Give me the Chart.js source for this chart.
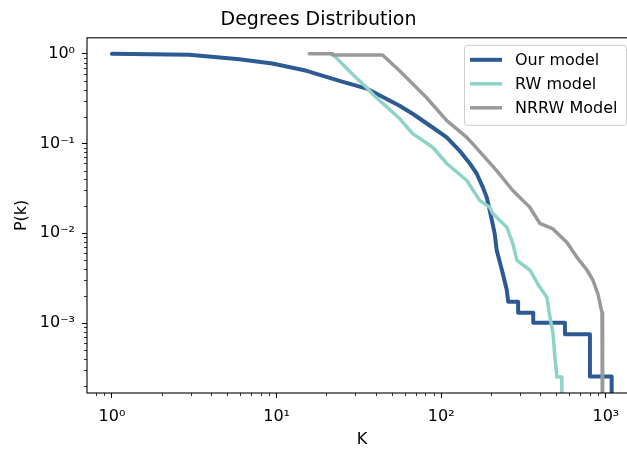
<!DOCTYPE html>
<html>
<head>
<meta charset="utf-8">
<script src="https://cdn.jsdelivr.net/npm/chart.js@4/dist/chart.umd.min.js"></script>
<style>
  html, body { margin: 0; padding: 0; overflow: hidden; background: #fff; }
  #wrap { width: 640px; height: 449px; position: relative; }
</style>
</head>
<body>
<div id="wrap"><canvas id="c"></canvas></div>
<script>
// ---- data ----
const seriesNames = ['Our model', 'RW model', 'NRRW Model'];

const ourModelK = [1, 2.94, 5.93, 9.42, 15.2, 24.1, 35.2, 55.8, 67, 88.7,
  108, 129, 149, 164, 179, 189, 197, 211, 217, 236,
  250, 255, 293, 293, 362, 362, 564, 564, 800, 800, 1084, 1084];
const ourModelP = [1.0, 0.975, 0.873, 0.78, 0.647, 0.50, 0.41, 0.264, 0.215, 0.151,
  0.117, 0.0836, 0.060, 0.0464, 0.0325, 0.0251, 0.018, 0.010, 0.0065, 0.0036,
  0.00233, 0.00173, 0.00173, 0.0013, 0.0013, 0.00101, 0.00101, 0.00075, 0.00075, 0.000253, 0.000253, 0.00001];

const rwModelK = [21.8, 28.9, 35.2, 38.2, 55.8, 67, 88.7, 108, 143, 171,
  197, 205, 250, 272, 288, 345, 397, 438, 457, 477, 490, 504, 540, 540];
const rwModelP = [1.0, 0.594, 0.422, 0.357, 0.19, 0.129, 0.091, 0.06, 0.0388, 0.0233,
  0.0195, 0.0167, 0.0117, 0.0077, 0.005, 0.0039, 0.0025, 0.00194, 0.00117, 0.00077, 0.00042, 0.000251, 0.000251, 0.00001];

const nrrwModelK = [15.8, 21.8, 21.8, 44, 55.8, 81.5, 108, 143, 155, 217,
  272, 345, 397, 477, 580, 667, 767, 834, 895, 947, 955];
const nrrwModelP = [1.0, 1.0, 0.97, 0.97, 0.647, 0.324, 0.18, 0.117, 0.1, 0.05,
  0.030, 0.0195, 0.0129, 0.0112, 0.0079, 0.0054, 0.0039, 0.003, 0.0021, 0.0013, 0.00001];

const xTickValues = [1, 10, 100, 1000];
const xTickLabels = ['10\u2070', '10\u00B9', '10\u00B2', '10\u00B3'];
const yTickValues = [1, 0.1, 0.01, 0.001];
const yTickLabels = ['10\u2070', '10\u207B\u00B9', '10\u207B\u00B2', '10\u207B\u00B3'];

const titleText = 'Degrees Distribution';
const xAxisTitle = 'K';
const yAxisTitle = 'P(k)';

// ---- styling ----
const FONT = 'DejaVu Sans';
const colors = ['#2c5b94', '#8dd3c7', '#999999'];
const widths = [4, 3.5, 3.5];

function pts(xs, ys) { return xs.map((x, i) => ({ x: x, y: ys[i] })); }
function labelFor(vals, labels, v) {
  for (let i = 0; i < vals.length; i++) {
    if (Math.abs(Math.log10(v) - Math.log10(vals[i])) < 1e-6) return labels[i];
  }
  return '';
}

const seriesData = [pts(ourModelK, ourModelP), pts(rwModelK, rwModelP), pts(nrrwModelK, nrrwModelP)];
const drawOrder = [2, 1, 0];

const framePlugin = {
  id: 'frameAndMinor',
  afterDatasetsDraw(chart) {
    const ctx = chart.ctx, a = chart.chartArea;
    const xs = chart.scales.x, ys = chart.scales.y;
    ctx.save();
    ctx.strokeStyle = '#000';
    ctx.lineWidth = 0.8;
    ctx.beginPath();
    for (let k = -1; k <= 3; k++) {
      for (let m = 2; m <= 9; m++) {
        const v = m * Math.pow(10, k);
        if (v > xs.min && v < xs.max) {
          const px = Math.round(xs.getPixelForValue(v)) + 0.5;
          ctx.moveTo(px, a.bottom); ctx.lineTo(px, a.bottom + 3);
        }
      }
    }
    for (let k = -5; k <= 1; k++) {
      for (let m = 2; m <= 9; m++) {
        const v = m * Math.pow(10, k);
        if (v > ys.min && v < ys.max) {
          const py = Math.round(ys.getPixelForValue(v)) + 0.5;
          ctx.moveTo(a.left, py); ctx.lineTo(a.left - 3, py);
        }
      }
    }
    ctx.stroke();
    ctx.lineWidth = 1.1;
    ctx.strokeRect(a.left, a.top, a.right - a.left, a.bottom - a.top);
    ctx.restore();
  }
};

const legendPlugin = {
  id: 'innerLegend',
  afterDraw(chart) {
    const ctx = chart.ctx, a = chart.chartArea;
    const boxR = a.right - 11, boxL = boxR - 162, boxT = a.top + 7, boxB = boxT + 80;
    ctx.save();
    ctx.beginPath();
    ctx.roundRect(boxL + 0.5, boxT + 0.5, boxR - boxL, boxB - boxT, 3);
    ctx.fillStyle = 'rgba(255,255,255,0.8)';
    ctx.fill();
    ctx.strokeStyle = '#cccccc';
    ctx.lineWidth = 1;
    ctx.stroke();
    ctx.font = '16px "' + FONT + '"';
    ctx.textBaseline = 'middle';
    ctx.textAlign = 'left';
    chart.data.datasets.forEach((ds, i) => {
      const y = boxT + 15 + i * 24;
      ctx.beginPath();
      ctx.strokeStyle = ds.borderColor;
      ctx.lineWidth = ds.borderWidth;
      ctx.moveTo(boxL + 6, y); ctx.lineTo(boxL + 38, y);
      ctx.stroke();
      ctx.fillStyle = '#000';
      ctx.fillText(ds.label, boxL + 51, y + 1);
    });
    ctx.restore();
  }
};

new Chart(document.getElementById('c'), {
  type: 'line',
  data: {
    datasets: seriesNames.map((name, i) => ({
      label: name,
      data: seriesData[i],
      borderColor: colors[i],
      backgroundColor: colors[i],
      borderWidth: widths[i],
      pointRadius: 0,
      tension: 0,
      fill: false,
      borderCapStyle: 'round',
      borderJoinStyle: 'round',
      order: drawOrder[i],
      clip: 0
    }))
  },
  options: {
    responsive: true,
    maintainAspectRatio: false,
    animation: false,
    devicePixelRatio: 1,
    events: [],
    layout: { padding: { left: 0, right: 3, top: 0, bottom: 0 } },
    plugins: {
      legend: { display: false },
      tooltip: { enabled: false },
      title: {
        display: true,
        text: titleText,
        color: '#000',
        font: { family: FONT, size: 19, weight: 'normal' },
        padding: { top: 9, bottom: 6 }
      }
    },
    scales: {
      x: {
        type: 'logarithmic',
        min: 0.705,
        max: 1545,
        bounds: 'data',
        afterFit(s) { s.height = 56; },
        afterBuildTicks(s) { s.ticks = xTickValues.map(v => ({ value: v })); },
        ticks: {
          autoSkip: false, maxRotation: 0, color: '#000', padding: 9,
          font: { family: FONT, size: 16 },
          callback: (v) => labelFor(xTickValues, xTickLabels, v)
        },
        grid: { display: true, drawOnChartArea: false, drawTicks: true, tickLength: 5, color: '#000', lineWidth: 1 },
        border: { display: false },
        title: { display: true, text: xAxisTitle, color: '#000', font: { family: FONT, size: 16 }, padding: { top: 3, bottom: 0 } }
      },
      y: {
        type: 'logarithmic',
        min: 1.66e-4,
        max: 1.51,
        bounds: 'data',
        afterFit(s) { s.width = 87; },
        afterBuildTicks(s) { s.ticks = yTickValues.map(v => ({ value: v })); },
        ticks: {
          autoSkip: false, color: '#000', padding: 7,
          font: { family: FONT, size: 16 },
          callback: (v) => labelFor(yTickValues, yTickLabels, v)
        },
        grid: { display: true, drawOnChartArea: false, drawTicks: true, tickLength: 5, color: '#000', lineWidth: 1 },
        border: { display: false },
        title: { display: true, text: yAxisTitle, color: '#000', font: { family: FONT, size: 16 }, padding: { top: 12, bottom: 0 } }
      }
    }
  },
  plugins: [framePlugin, legendPlugin]
});
</script>
</body>
</html>
